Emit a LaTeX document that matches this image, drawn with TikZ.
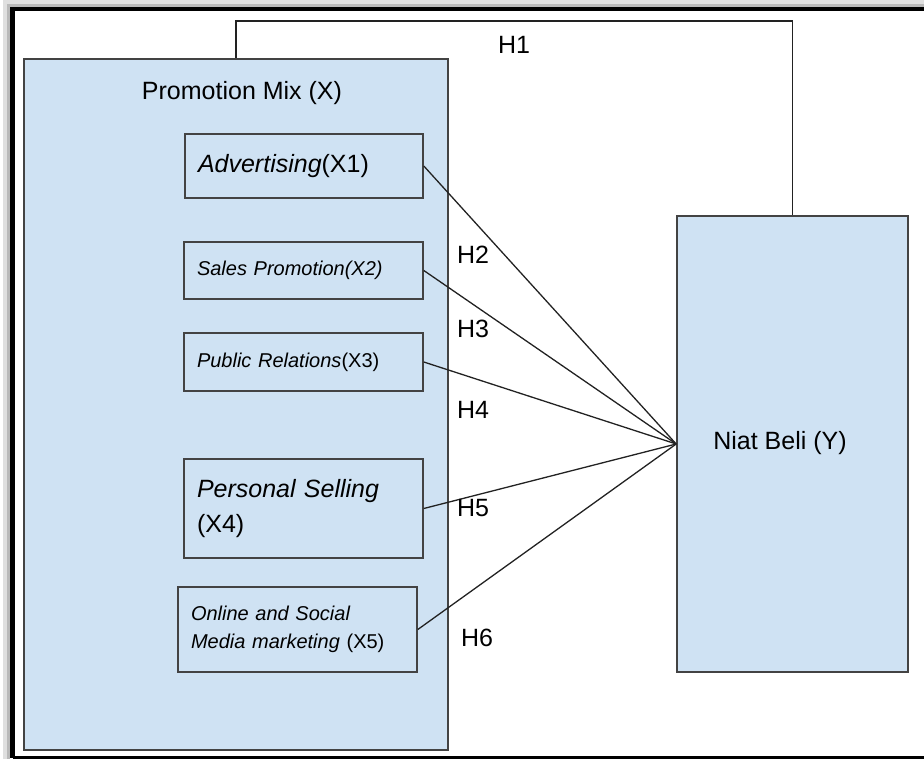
\documentclass[tikz,border=0pt]{standalone}
\usepackage{fontspec}
\setmainfont{Liberation Sans}
\definecolor{boxblue}{HTML}{CFE2F3}
\definecolor{edgegray}{HTML}{434343}
\definecolor{linegray}{HTML}{222222}
\tikzset{
  bluebox/.style={draw=edgegray, line width=1.6pt, fill=boxblue, inner sep=0pt},
  itembox/.style={bluebox, align=left, inner xsep=13pt, inner ysep=0pt},
  bigfont/.style={font=\fontsize{25}{31}\selectfont},
  bigtwoline/.style={font=\fontsize{25}{35}\selectfont},
  smallfont/.style={font=\fontsize{20}{26}\selectfont},
  smalltwoline/.style={font=\fontsize{20}{28}\selectfont},
  link/.style={draw=linegray, line width=1.3pt},
  hlabel/.style={font=\fontsize{25}{30}\selectfont, inner sep=0pt}
}
\begin{document}
\begin{tikzpicture}[x=1pt,y=-1pt]
\useasboundingbox (0,0) rectangle (924,759);
% frame with shadow
\draw[gray!25, line width=4pt] (5,770) -- (5,2) -- (940,2);
\draw[gray!55, line width=3pt] (8.5,770) -- (8.5,5.5) -- (940,5.5);
\draw[black, line width=4.5pt] (12.5,757.5) -- (12.5,9) -- (940,9);
\draw[black, line width=3pt] (12.5,757.5) -- (940,757.5);

% boxes
\node[bluebox, minimum width=424pt, minimum height=691pt] (pm) at (236,404.5) {};
\node[bluebox, minimum width=231pt, minimum height=456pt] (y) at (792.5,444) {};

\node[bigfont, inner sep=0pt] (pmlabel) at (242,93) {Promotion Mix (X)};
\node[bigfont, inner sep=0pt] (ylabel) at (780,443) {Niat Beli (Y)};

\node[itembox, bigfont, text width=212pt, minimum height=64pt] (x1) at (304,166) {\textit{Advertising}(X1)};
\node[itembox, smallfont, text width=213pt, minimum height=57pt] (x2) at (303.5,270.5) {\textit{Sales Promotion(X2)}};
\node[itembox, smallfont, text width=213pt, minimum height=58pt] (x3) at (303.5,362) {\textit{Public Relations}(X3)};
\node[itembox, bigtwoline, text width=213pt, minimum height=99pt] (x4) at (303.5,508.5) {\textit{Personal Selling}\\(X4)};
\node[itembox, smalltwoline, text width=213pt, minimum height=85pt] (x5) at (297.5,629.5) {\textit{Online and Social}\\\textit{Media marketing} (X5)};

% connectors
\coordinate (h1top) at (514,21);
\draw[link] (pm.north) |- (h1top) -| (y.north);
\draw[link] (x1.east) -- (y.west);
\draw[link] (x2.east) -- (y.west);
\draw[link] (x3.east) -- (y.west);
\draw[link] (x4.east) -- (y.west);
\draw[link] (x5.east) -- (y.west);

% labels
\node[hlabel] (h1) at (514,45) {H1};
\node[hlabel] (h2) at (473,255) {H2};
\node[hlabel] (h3) at (473,329) {H3};
\node[hlabel] (h4) at (473,410) {H4};
\node[hlabel] (h5) at (473,508) {H5};
\node[hlabel] (h6) at (477,638) {H6};
\end{tikzpicture}
\end{document}
